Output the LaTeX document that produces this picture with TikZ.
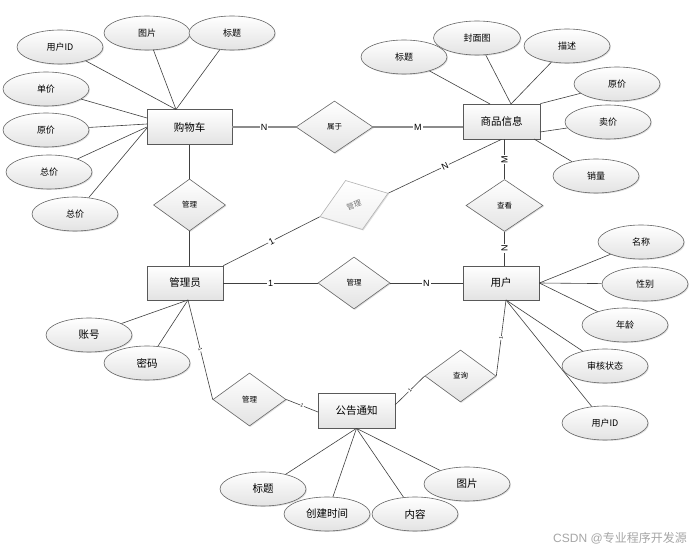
\documentclass[tikz,border=0pt]{standalone}
\usepackage{fontspec}
\setmainfont{Noto Sans CJK SC}
\newfontfamily\latf{Liberation Sans}
\usetikzlibrary{shapes.geometric,shadows,calc}
\begin{document}
\begin{tikzpicture}[x=1pt,y=-1pt,
  sh/.style={drop shadow={shadow xshift=1pt,shadow yshift=-1pt,opacity=0.25}},
  ent/.style={rectangle,draw=black!65,line width=0.7pt,top color=white,bottom color=black!11,
    minimum width=77pt,minimum height=35pt,inner sep=0pt,sh,font=\fontsize{10.5}{12}\selectfont},
  attr/.style={ellipse,draw=black!60,line width=0.6pt,top color=white,bottom color=black!11,
    minimum width=86pt,minimum height=34pt,inner sep=0pt,sh,font=\fontsize{9}{10}\selectfont},
  attrL/.style={attr,font=\fontsize{10.5}{12}\selectfont},
  rel/.style={diamond,draw=black!60,line width=0.6pt,top color=white,bottom color=black!11,
    minimum width=72pt,minimum height=52pt,inner sep=0pt,sh,font=\fontsize{7.5}{9}\selectfont},
  link/.style={draw=black!75,line width=0.6pt},
  glink/.style={draw=black!45,line width=1.4pt},
  card/.style={font=\latf\fontsize{9}{10}\selectfont,fill=white,inner sep=1pt},
  tinycard/.style={font=\latf\fontsize{5}{5}\selectfont,fill=white,inner sep=0.4pt,sloped}
]
\useasboundingbox (0,0) rectangle (697,553);
\fill[white] (0,0) rectangle (697,553);

% entities
\node[ent,minimum width=85pt] (cart) at (189.5,127) {购物车};
\node[ent] (goods) at (501.5,121.5) {商品信息};
\node[ent,minimum width=76pt,minimum height=34pt] (admin) at (185,283) {管理员};
\node[ent,minimum width=76pt,minimum height=34pt] (user) at (501,283) {用户};
\node[ent] (notice) at (356.5,410.5) {公告通知};

% relations
\node[rel,minimum width=77pt] (belong) at (334.5,127) {属于};
\node[rel] (mcart) at (189.5,205) {管理};
\node[rel,rotate=19,draw=black!30,bottom color=black!6,text=black!55] (mgoods) at (354,205) {管理};
\node[rel,minimum width=77pt] (view) at (504.5,205.5) {查看};
\node[rel] (muser) at (354,283) {管理};
\node[rel,minimum width=73pt,minimum height=53pt] (mnotice) at (249.5,399.5) {管理};
\node[rel,minimum width=71pt] (query) at (460.5,376) {查询};

% attributes of cart
\node[attr] (uid) at (60,47) {用户ID};
\node[attr] (cpic) at (147,33) {图片};
\node[attr] (ctitle) at (232,33) {标题};
\node[attr] (uprice) at (46,89) {单价};
\node[attr] (oprice) at (46,130) {原价};
\node[attr] (total1) at (49,172) {总价};
\node[attr] (total2) at (75,214) {总价};

% attributes of goods
\node[attr] (gtitle) at (404,57) {标题};
\node[attr,minimum width=87pt] (gcover) at (477,38) {封面图};
\node[attr] (gdesc) at (567,46) {描述};
\node[attr] (gorig) at (617,84) {原价};
\node[attr] (gsale) at (608,122) {卖价};
\node[attr] (gsold) at (596,176) {销量};

% attributes of user
\node[attr] (uname) at (641,242) {名称};
\node[attr] (usex) at (645,284) {性别};
\node[attr] (uage) at (625,325) {年龄};
\node[attr] (ustatus) at (605,366) {审核状态};
\node[attr] (uuid) at (605,423) {用户ID};

% attributes of admin
\node[attrL] (acct) at (89,335) {账号};
\node[attrL] (pwd) at (147,363) {密码};

% attributes of notice
\node[attrL] (ntitle) at (263,489) {标题};
\node[attrL] (ntime) at (327,514) {创建时间};
\node[attrL] (ncontent) at (415,514) {内容};
\node[attrL] (npic) at (467,484) {图片};

% anchor points
\coordinate (cartTop) at (176,109.5);
\coordinate (cartL1) at (147,118);
\coordinate (cartL2) at (147,124);
\coordinate (cartL3) at (147,127);
\coordinate (cartL4) at (147,128);
\coordinate (gTop1) at (490,104);
\coordinate (gTop2) at (511,104);
\coordinate (gR1) at (540,132);
\coordinate (gB1) at (534,139);
\coordinate (uBot) at (506,300);
\coordinate (aBot) at (188,300);
\coordinate (nL) at (318,412);
\coordinate (nQ) at (395,405);

% cart attribute links
\draw[link] (uid) -- (cartTop);
\draw[link] (cpic) -- (cartTop);
\draw[link] (ctitle) -- (cartTop);
\draw[link] (uprice) -- (cartL1);
\draw[link] (oprice) -- (cartL2);
\draw[link] (total1) -- (cartL3);
\draw[link] (total2) -- (cartL4);

% goods attribute links
\draw[link] (gtitle) -- (gTop1);
\draw[link] (gcover) -- (gTop2);
\draw[link] (gdesc) -- (gTop2);
\draw[link] (gorig) -- (goods.north east);
\draw[link] (gsale) -- (gR1);
\draw[link] (gsold) -- (gB1);

% user attribute links
\draw[link] (uname) -- (user.east);
\draw[link] (usex) -- (user.east);
\draw[link] (uage) -- (user.east);
\draw[link] (ustatus) -- (uBot);
\draw[link] (uuid) -- (uBot);

% admin attribute links
\draw[link] (acct) -- (aBot);
\draw[link] (pwd) -- (aBot);

% notice attribute links
\draw[link] (ntitle) -- (notice.south);
\draw[link] (ntime) -- (notice.south);
\draw[link] (ncontent) -- (notice.south);
\draw[link] (npic) -- (notice.south);

% relationship links
\draw[glink] (cart.east) -- node[card] {N} (belong.west);
\draw[glink] (belong.east) -- node[card] {M} (belong.east -| goods.west);
\draw[link] (cart.south) -- (mcart.north);
\draw[link] (mcart.south) -- (mcart.south |- admin.north);
\draw[link] (admin.north east) -- node[card,sloped] {1} (mgoods.west);
\draw[link] (mgoods.east) -- node[card,sloped] {N} (goods.south);
\draw[link] (view.north |- goods.south) -- node[card,rotate=90] {M} (view.north);
\draw[link] (view.south) -- node[card,rotate=90] {N} (view.south |- user.north);
\draw[link] (admin.east) -- node[card] {1} (muser.west);
\draw[link] (muser.east) -- node[card] {N} (user.west);
\draw[link] (aBot) -- node[tinycard] {1} (mnotice.west);
\draw[link] (mnotice.east) -- node[tinycard] {1} (nL);
\draw[link] (nQ) -- node[tinycard] {1} (query.west);
\draw[link] (query.east) -- node[tinycard] {1} (uBot);

% watermark
\node[text=black!35,font=\fontsize{12}{14}\selectfont,inner sep=0pt] (wm) at (620,538) {{\latf CSDN @}专业程序开发源};
\end{tikzpicture}
\end{document}
